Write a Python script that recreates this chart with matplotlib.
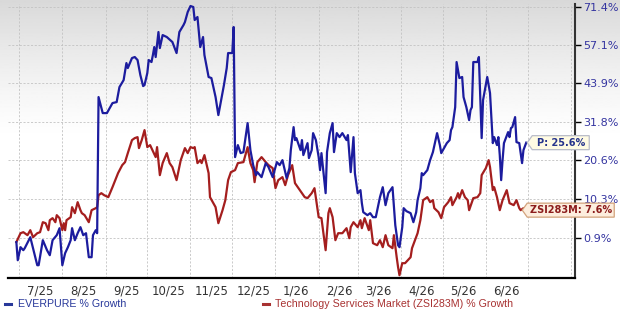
import numpy as np
import pandas as pd
import matplotlib
matplotlib.use('Agg')
from matplotlib import pyplot as plt
import matplotlib.dates as mdates
import matplotlib.ticker as mticker
import matplotlib.transforms as mtransforms
from matplotlib.patches import Polygon
from matplotlib.lines import Line2D

# day offsets from 2025-07-01 and % growth values
START = pd.Timestamp('2025-07-01')

everpure_days = [-2, -1, 1, 3, 4, 8, 13, 14, 17, 20, 22, 24, 27, 29, 31, 33, 35, 37, 38, 40, 42, 44, 46, 48, 50,
                 52, 53, 55, 56, 57, 60, 63, 67, 70, 72, 75, 77, 78, 81, 83, 85, 87, 89, 90, 92, 93, 95, 96, 97, 98,
                 100, 101, 103, 106, 110, 113, 115, 118, 119, 121, 123, 125, 126, 128, 130, 132, 133, 136, 138, 141,
                 143, 145, 147, 149, 150, 153, 154, 155, 157, 159, 161, 164, 166, 168, 170, 171, 174, 177, 179, 182,
                 185, 187, 189, 192, 194, 195, 197, 198, 199, 202, 203, 204, 207, 208, 210, 211, 213, 215, 216, 217,
                 220, 221, 223, 225, 226, 228, 230, 232, 235, 236, 238, 240, 241, 243, 245, 246, 247, 250, 252, 254,
                 256, 259, 261, 263, 265, 268, 270, 272, 273, 275, 276, 278, 281, 283, 285, 286, 288, 289, 290, 293,
                 295, 297, 300, 302, 303, 305, 307, 309, 310, 311, 313, 314, 315, 316, 318, 319, 321, 323, 324, 325,
                 326, 329, 330, 332, 333, 336, 338, 340, 341, 343, 344, 345, 346, 347, 348, 351, 352, 353, 354, 356,
                 357, 359, 361, 362, 364]
everpure_vals = [0.0, -4.07, -1.16, -1.84, -1.39, 1.13, -5.16, -5.16, 0.44, -1.84, -2.96, 0.44, 1.60, 3.24, -5.16,
                 -2.51, -1.16, 0.44, 3.24, 0.44, 2.06, 3.48, 1.60, 2.06, -3.40,
                 -3.40, 1.60, 2.77, 2.06, 39.44, 34.41, 34.41, 37.53, 37.85, 42.67, 44.98, 50.75, 49.03, 52.49, 52.84,
                 51.79, 46.66, 43.00, 43.33, 47.33, 51.79, 51.10, 53.54, 56.38, 52.84,
                 61.86, 56.02, 60.74, 60.01, 58.19, 54.24, 61.86, 64.49, 65.61, 69.46, 71.8, 71.41, 66.37, 67.53,
                 56.38, 60.01, 53.54, 46.0, 45.65, 39.44,
                 33.80, 38.48, 43.33, 49.03, 54.24, 54.24, 63.73, 21.51, 24.90, 22.63, 22.91, 31.36, 23.47, 19.30,
                 16.59, 17.40, 16.06, 19.85, 18.75, 16.06,
                 20.12, 19.30, 20.67, 15.79, 18.48, 23.47, 30.16, 26.34, 26.92, 23.47, 26.34, 22.07, 25.47, 21.23,
                 23.47, 28.38, 26.34, 21.51, 17.94, 22.63,
                 11.87, 22.91, 28.38, 31.36, 22.91, 28.38, 27.21, 28.38, 26.34, 27.80, 17.40, 27.21, 17.13, 11.87,
                 12.65, 9.34, 7.10, 6.37, 6.86, 5.88,
                 5.88, 10.85, 13.42, 8.84, 11.87, 13.42, 3.95, -0.71, -1.16, 3.48, 8.09, 7.35, 6.86, 4.67, 7.10,
                 10.09, 13.16, 17.13, 16.59, 17.94,
                 20.67, 22.91, 28.38, 24.90, 22.63, 24.04, 25.47, 26.34, 29.27, 30.16, 36.27, 51.10, 48.35, 45.65,
                 46.0, 39.44, 36.27, 32.27, 35.34, 36.27,
                 51.10, 51.10, 52.84, 26.92, 38.48, 46.0, 40.72, 25.47, 27.21, 24.90, 27.21, 22.07, 15.26, 20.67,
                 25.47, 28.68, 27.21, 29.86, 30.16, 33.18,
                 25.76, 25.47, 19.85, 23.47, 25.6]

sector_days = [-2, 1, 3, 6, 8, 10, 13, 15, 17, 19, 21, 22, 24, 26, 27, 29, 31, 32, 33, 34, 37, 38, 40, 42, 44, 45,
               47, 50, 52, 55, 56, 57, 59, 61, 64, 67, 71, 74, 76, 78, 81, 83, 85, 86, 88, 90, 92, 94, 95, 98, 99,
               101, 103, 106, 108, 110, 113, 116, 119, 121, 123, 125, 126, 128, 130, 131, 133, 136, 137, 141, 143,
               146, 148, 150, 152, 155, 157, 161, 164, 166, 168, 169, 171, 174, 177, 179, 182, 184, 186, 189, 191,
               193, 196, 198, 200, 203, 205, 207, 210, 212, 215, 217, 220, 222, 223, 225, 227, 229, 232, 235, 237,
               238, 240, 243, 245, 246, 248, 251, 252, 254, 257, 259, 261, 263, 265, 268, 269, 271, 272, 273, 275,
               277, 279, 281, 282, 286, 288, 290, 293, 295, 297, 298, 301, 303, 305, 308, 310, 311, 314, 315, 316,
               318, 320, 322, 323, 326, 329, 331, 332, 335, 337, 338, 340, 341, 343, 345, 347, 350, 352, 355, 357,
               359, 360, 362, 364]
sector_vals = [0.0, 2.06, 2.30, 1.60, 2.77, 1.13, 2.06, 2.30, 4.67, 4.43, 2.77, 5.15, 5.64, 4.67, 6.37, 5.64, 2.77,
               4.43, 2.77, 5.15, 5.88, 8.34, 6.86, 9.59, 7.59, 6.86,
               6.37, 4.67, 7.59, 8.09, 8.34, 11.36, 11.87, 11.36, 10.85, 13.42, 17.13, 19.30, 20.12, 22.63, 26.34,
               26.92, 27.21, 24.04, 26.34, 29.27, 24.33, 24.90, 24.04, 21.51, 24.33,
               16.59, 19.85, 22.63, 19.85, 18.75, 15.26, 20.67, 24.04, 22.63, 24.33, 24.04, 24.33, 19.85, 20.67,
               19.85, 22.07, 17.13, 10.85, 8.34, 4.43,
               7.59, 10.09, 15.26, 17.40, 17.94, 19.85, 20.12, 24.33, 19.85, 17.94, 14.73, 20.12, 21.51, 20.12,
               19.30, 18.48, 13.16, 15.26, 16.06, 13.95,
               16.59, 19.30, 14.47, 13.42, 11.87, 10.85, 10.6, 11.87, 13.16, 5.88, 5.64, -1.84, 6.86, 8.09, 5.88,
               0.44, 2.06, 2.06, 3.24, 0.9,
               3.48, 4.67, 3.48, 5.15, 3.24, 5.64, 2.77, 5.15, -0.25, -0.71, 0.44, -1.16, 1.60, -0.71, -1.39, 1.60,
               -3.40, -5.59, -7.31, -4.72,
               -4.72, -4.07, -3.40, -1.39, 2.06, 5.15, 10.09, 10.85, 9.59, 10.09, 8.09, 7.10, 5.64, 8.34, 9.59,
               10.85, 8.84, 10.85, 11.87, 10.6,
               12.65, 10.85, 10.09, 7.59, 10.6, 10.85, 11.87, 16.59, 18.48, 20.67, 18.75, 12.65, 13.42, 10.85, 7.59,
               10.09, 12.65, 9.34, 8.84, 10.09,
               8.09, 7.59, 8.09, 7.6]

y_ticks = [0.9, 10.3, 20.6, 31.8, 43.9, 57.1, 71.4]

BLUE = '#1c1c9e'
RED = '#a41e1e'


def growth_fwd(g):
    return np.log1p(np.asarray(g, dtype=float) / 100.0)


def growth_inv(v):
    return np.expm1(np.asarray(v, dtype=float)) * 100.0


def draw_tag(ax, x, y, text, tip_dx, body_w, fc, ec, tc):
    # tag with a pointed left end, sized in pixels relative to the last data point
    fig = ax.figure
    trans = mtransforms.Affine2D().scale(1 / 100.0) + fig.dpi_scale_trans + \
        mtransforms.ScaledTranslation(mdates.date2num(x), float(y), ax.transData)
    h = 7
    verts = [(tip_dx, 0), (tip_dx + 5, h), (tip_dx + 5 + body_w, h),
             (tip_dx + 5 + body_w, -h), (tip_dx + 5, -h)]
    poly = Polygon(verts, closed=True, transform=trans, facecolor=fc, edgecolor=ec,
                   linewidth=0.9, zorder=10, clip_on=False)
    ax.add_patch(poly)
    ax.text(tip_dx + 5 + body_w / 2, 0, text, transform=trans, ha='center', va='center',
            fontsize=7, fontweight='bold', color=tc, zorder=11, clip_on=False)


everpure_dates = START + pd.to_timedelta(everpure_days, unit='D')
sector_dates = START + pd.to_timedelta(sector_days, unit='D')

fig = plt.figure(figsize=(6.2, 3.13), dpi=100)

# grey-to-white backdrop
bg = fig.add_axes([0, 0, 1, 1])
bg.set_zorder(0)
bg.axis('off')
t = np.linspace(0, 1, 300)
shade = 1 - 0.15 * np.clip(1 - t / 0.45, 0, 1) ** 1.3
bg.imshow(shade[:, None], cmap='gray', vmin=0, vmax=1, extent=[0, 1, 0, 1], aspect='auto')
bg.set_xlim(0, 1)
bg.set_ylim(0, 1)

ax = fig.add_axes([8 / 620, 1 - 278 / 313, 567 / 620, 274 / 313])
ax.set_zorder(1)
ax.patch.set_alpha(0)

ax.plot(sector_dates, sector_vals, color=RED, lw=1.6, zorder=3)
ax.plot(everpure_dates, everpure_vals, color=BLUE, lw=1.6, zorder=4)

ax.set_yscale('function', functions=(growth_fwd, growth_inv))
ax.set_ylim(-7.9, 72.6)
ax.set_xlim(pd.Timestamp('2025-06-23'), pd.Timestamp('2026-08-04'))

ax.yaxis.tick_right()
ax.set_yticks(y_ticks)
ax.set_yticklabels([f'{v:.1f}%' for v in y_ticks])
ax.yaxis.set_minor_locator(mticker.NullLocator())
ax.tick_params(axis='y', which='major', length=4, width=1, color='black', pad=2,
               labelsize=8, labelcolor='#3434a0')

ax.xaxis.set_major_locator(mdates.MonthLocator(bymonthday=1))
ax.xaxis.set_major_formatter(mticker.NullFormatter())
ax.xaxis.set_minor_locator(mdates.MonthLocator(bymonthday=16))


def month_label(v, pos):
    d = mdates.num2date(v)
    if d < pd.Timestamp('2025-07-01', tz='UTC') or d > pd.Timestamp('2026-07-01', tz='UTC'):
        return ''
    return f'{d.month}/{d.strftime("%y")}'


ax.xaxis.set_minor_formatter(mticker.FuncFormatter(month_label))
ax.tick_params(axis='x', which='both', length=0, pad=5, labelsize=8.5, labelcolor='#333333')

ax.grid(True, which='major', axis='both', color='#c2c2c2', lw=0.6, linestyle=(0, (2.5, 2)))

for side in ['left', 'top']:
    ax.spines[side].set_visible(False)
ax.spines['right'].set_color('#333333')
ax.spines['right'].set_linewidth(1.5)
ax.spines['bottom'].set_color('black')
ax.spines['bottom'].set_linewidth(1.6)

draw_tag(ax, everpure_dates[-1], everpure_vals[-1], f'P: {everpure_vals[-1]:.1f}%', 1, 57,
         '#fffbe3', '#b9bcc9', '#26348c')
draw_tag(ax, sector_dates[-1], sector_vals[-1], f'ZSI283M: {sector_vals[-1]:.1f}%', -4, 87,
         '#fdeede', '#d3a37c', '#8c1c1c')

# legend as plain text under the axis
leg_y = 1 - 304 / 313
fig.add_artist(Line2D([5 / 620, 11 / 620], [leg_y, leg_y], color='#28389a', lw=2.2))
fig.text(18 / 620, leg_y, 'EVERPURE % Growth', color='#28389a', fontsize=7.7,
         family='Liberation Sans', va='center')
fig.add_artist(Line2D([263 / 620, 269 / 620], [leg_y, leg_y], color='#a83232', lw=2.2))
fig.text(275 / 620, leg_y, 'Technology Services Market (ZSI283M) % Growth', color='#a83232',
         fontsize=7.7, family='Liberation Sans', va='center')

fig.savefig('out.png', dpi=100)
